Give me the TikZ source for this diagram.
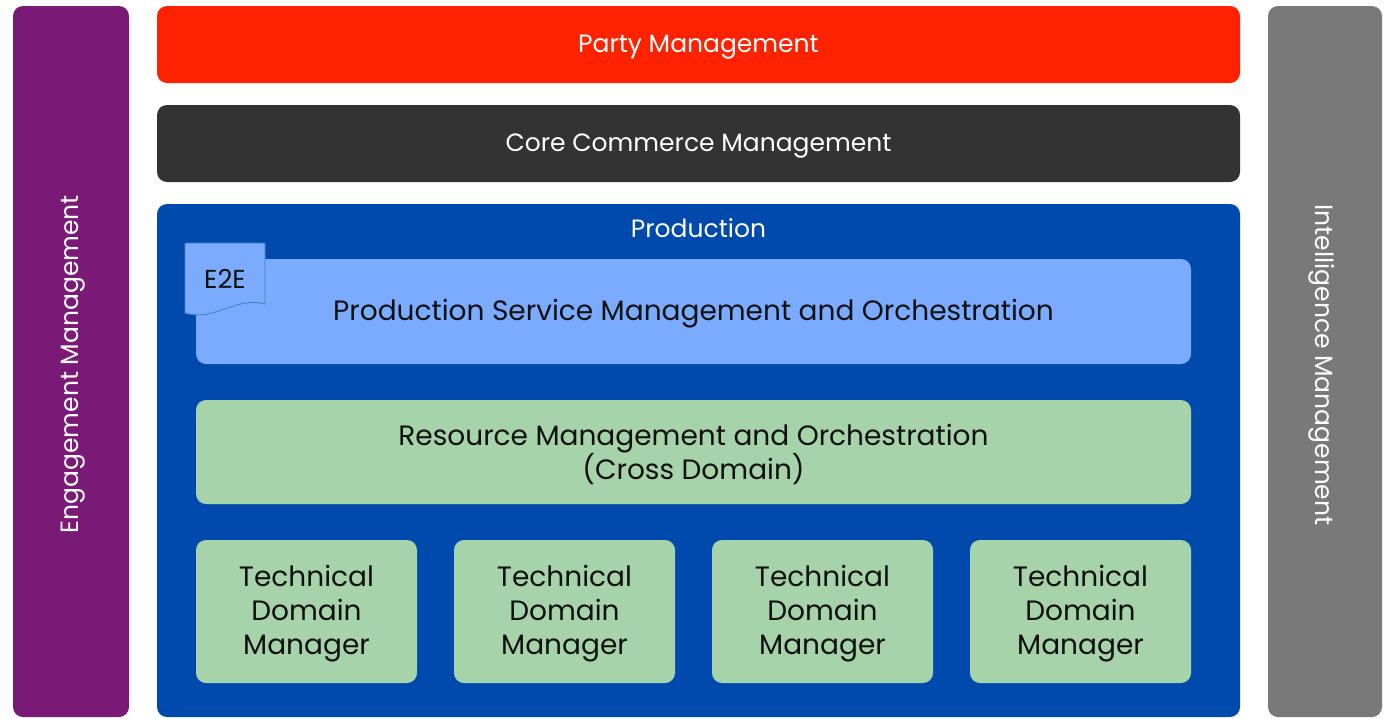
\documentclass[tikz,border=0pt]{standalone}
\usepackage{fontspec}
\setmainfont{Poppins}
\definecolor{cpurple}{HTML}{7B1A76}
\definecolor{cred}{HTML}{FF2200}
\definecolor{cdark}{HTML}{333333}
\definecolor{cblue}{HTML}{004AAD}
\definecolor{clblue}{HTML}{7AABFF}
\definecolor{cgreen}{HTML}{A6D3AA}
\definecolor{cgray}{HTML}{797979}
\definecolor{cdocline}{HTML}{4A7FB0}
\definecolor{ctext}{HTML}{111111}
\tikzset{
  box/.style={rounded corners=10pt, inner sep=0pt, align=center, draw=none},
  whitetxt/.style={text=white, font=\fontsize{25}{30}\selectfont},
  darktxt/.style={text=ctext, font=\fontsize{28}{34}\selectfont},
}
\begin{document}
\begin{tikzpicture}[x=1pt,y=-1pt]
\useasboundingbox (0,0) rectangle (1387,718);
% side bars
\node[box, fill=cpurple, minimum width=116pt, minimum height=711pt] (eng) at (71,361.5) {};
\node[whitetxt, rotate=90] (engt) at (73,364) {Engagement Management};
\node[box, fill=cgray, minimum width=114pt, minimum height=711pt] (intel) at (1325,361.5) {};
\node[whitetxt, rotate=-90] (intelt) at (1322,365) {Intelligence Management};
% top bars
\node[box, fill=cred, minimum width=1083pt, minimum height=77pt] (party) at (698.5,44.5) {};
\node[whitetxt] (partyt) at (698.5,47) {Party Management};
\node[box, fill=cdark, minimum width=1083pt, minimum height=77pt] (core) at (698.5,143.5) {};
\node[whitetxt] (coret) at (698.5,146) {Core Commerce Management};
% production
\node[box, fill=cblue, minimum width=1083pt, minimum height=513pt] (prod) at (698.5,460.5) {};
\node[whitetxt] (prodt) at (698.5,228) {Production};
\node[box, fill=clblue, minimum width=995pt, minimum height=105pt] (psmo) at (693.5,311.5) {};
\node[darktxt] (psmot) at (693.5,314) {Production Service Management and Orchestration};
\node[box, fill=cgreen, minimum width=995pt, minimum height=104pt] (rmo) at (693.5,452) {};
\node[darktxt, align=center] (rmot) at (693.5,454.5) {Resource Management and Orchestration\\(Cross Domain)};
\foreach \i/\x in {1/306.5,2/564.5,3/822.5,4/1080.5}{
  \node[box, fill=cgreen, minimum width=221pt, minimum height=143pt] (tdm\i) at (\x,611.5) {};
  \node[darktxt, align=center] (tdmt\i) at (\x,614) {Technical\\Domain\\Manager};
}
% E2E document
\draw[fill=clblue, draw=cdocline, line width=0.8pt] (185,243) -- (265,243) -- (265,304) .. controls (235,296) and (215,322) .. (185,313) -- cycle;
\node[text=ctext, font=\fontsize{26}{30}\selectfont] (e2e) at (225,279) {E2E};
\end{tikzpicture}
\end{document}
